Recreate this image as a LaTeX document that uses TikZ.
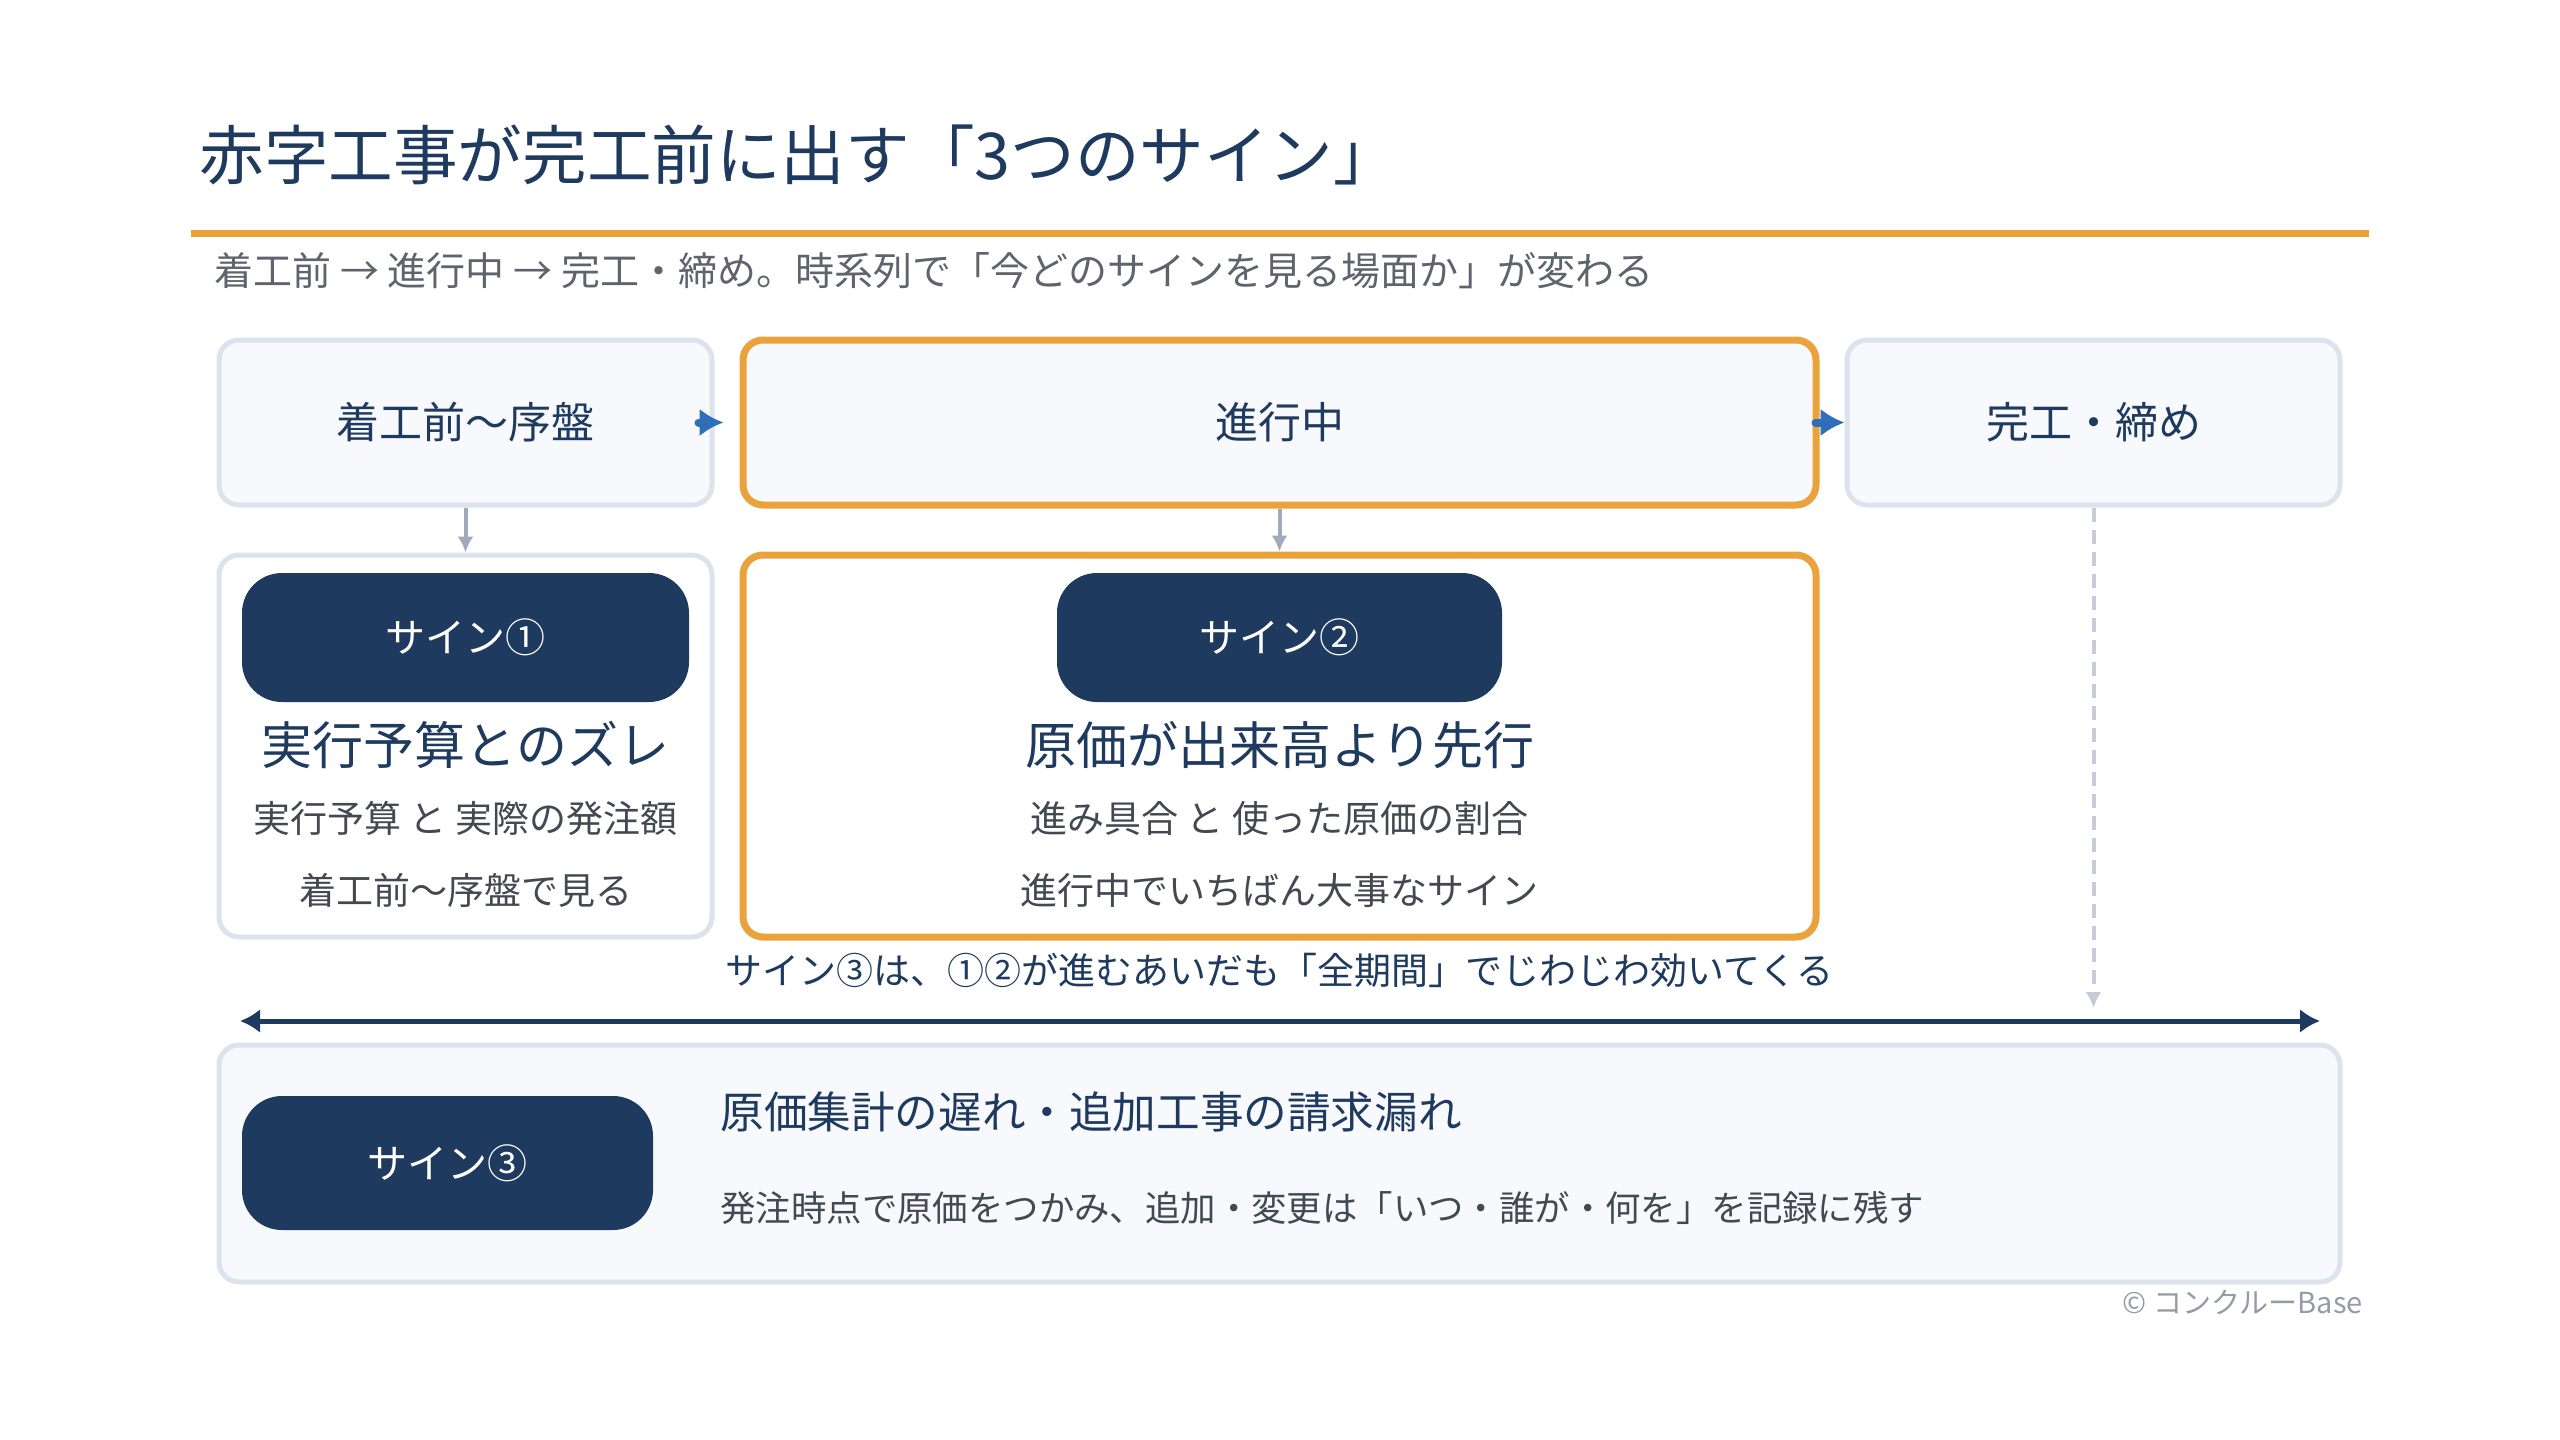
\documentclass[tikz,border=0pt]{standalone}
\usepackage{fontspec}
\setmainfont{Noto Sans CJK JP}
\usepackage{tikz}
\usetikzlibrary{arrows.meta}
\definecolor{navy}{RGB}{31,58,95}
\definecolor{orng}{RGB}{234,162,59}
\definecolor{paleg}{RGB}{247,249,252}
\definecolor{lineg}{RGB}{220,227,236}
\definecolor{flowblue}{RGB}{47,111,186}
\definecolor{dropgray}{RGB}{160,170,187}
\definecolor{dashgray}{RGB}{197,204,214}
\definecolor{txtgray}{RGB}{68,72,80}
\definecolor{subgray}{RGB}{95,100,108}
\definecolor{credgray}{RGB}{150,156,165}
\tikzset{>=latex}

\begin{document}
\begin{tikzpicture}[x=0.5pt, y=-0.5pt,
  phase/.style={draw=lineg, line width=2.5pt, fill=paleg, rounded corners=10pt, minimum height=82.5pt, text=navy, font=\fontsize{21.5pt}{24pt}\selectfont},
  card/.style={draw=lineg, line width=2.5pt, fill=white, rounded corners=10pt, minimum height=191pt},
  pill/.style={fill=navy, rounded corners=20pt, minimum height=64.5pt, text=white, font=\fontsize{20pt}{24pt}\selectfont},
  head/.style={inner sep=0, text=navy, font=\fontsize{25.5pt}{30pt}\selectfont},
  desc/.style={inner sep=0, text=txtgray, font=\fontsize{18.5pt}{22pt}\selectfont},
  flow/.style={flowblue, line width=4pt, line cap=round, -{Latex[length=12pt, width=14pt]}},
  drop/.style={dropgray, line width=2pt, -{Latex[length=8pt, width=8pt]}},
  tail/.style={dashgray, line width=2pt, dash pattern=on 7pt off 4pt, -{Latex[length=8pt, width=8pt]}},
  span/.style={navy, line width=2.5pt, {Latex[length=10pt, width=12pt]}-{Latex[length=10pt, width=12pt]}}]
\useasboundingbox (0,0) rectangle (2560,1440);

% title and rule
\node[anchor=west, inner sep=0, text=navy, font=\fontsize{32.3pt}{36pt}\selectfont] (title) at (199,155) {赤字工事が完工前に出す「3つのサイン」};
\draw[orng, line width=3.5pt] (191,233) -- (2369,233);
\node[anchor=west, inner sep=0, text=subgray, font=\fontsize{19.5pt}{24pt}\selectfont] (sub) at (214,271) {着工前 → 進行中 → 完工・締め。時系列で「今どのサインを見る場面か」が変わる};

% phases
\node[phase, minimum width=246.5pt] (pre) at (465.5,422.5) {着工前～序盤};
\node[phase, draw=orng, line width=3.5pt, minimum width=536.5pt] (now) at (1279.5,422.5) {進行中};
\node[phase, minimum width=246.5pt] (post) at (2093.5,422.5) {完工・締め};
\draw[flow] ([xshift=-8pt]pre.east) -- ([xshift=-8pt]now.west);
\draw[flow] ([xshift=-2pt]now.east) -- (post.west);

% signs 1 and 2
\node[card, minimum width=246.5pt] (cardA) at (465.5,746) {};
\node[card, draw=orng, line width=3.5pt, minimum width=536.5pt] (cardB) at (1279.5,746) {};
\draw[drop] (pre) -- (cardA);
\draw[drop] (now) -- (cardB);
\node[pill, minimum width=223.5pt] (pillA) at (465.5,637.5) {サイン①};
\node[head] (headA) at (465.5,745) {実行予算とのズレ};
\node[desc] (descA1) at (465.5,818) {実行予算 と 実際の発注額};
\node[desc] (descA2) at (465.5,890) {着工前～序盤で見る};
\node[pill, minimum width=222.5pt] (pillB) at (1279.5,637.5) {サイン②};
\node[head] (headB) at (1279.5,745) {原価が出来高より先行};
\node[desc] (descB1) at (1279.5,818) {進み具合 と 使った原価の割合};
\node[desc] (descB2) at (1279.5,890) {進行中でいちばん大事なサイン};

% sign 3 over the whole span
\node[desc, text=navy] (note) at (1279.5,970) {サイン③は、①②が進むあいだも「全期間」でじわじわ効いてくる};
\coordinate (endC) at (2093.5,1008);
\draw[tail] (post) -- (endC);
\coordinate (spanL) at (240,1021);
\coordinate (spanR) at (2320,1021);
\draw[span] (spanL) -- (spanR);
\node[phase, minimum width=1060.5pt, minimum height=118.5pt] (band) at (1279.5,1163.5) {};
\node[pill, minimum width=205.5pt, minimum height=67pt] (pillC) at (447.5,1163) {サイン③};
\node[head, anchor=west, font=\fontsize{21.8pt}{26pt}\selectfont] (headC) at (720,1112) {原価集計の遅れ・追加工事の請求漏れ};
\node[desc, anchor=west, font=\fontsize{17.7pt}{21pt}\selectfont] (descC) at (720,1208) {発注時点で原価をつかみ、追加・変更は「いつ・誰が・何を」を記録に残す};
\node[anchor=east, inner sep=0, text=credgray, font=\fontsize{14.5pt}{17pt}\selectfont] (cred) at (2363,1302) {© コンクルーBase};
\end{tikzpicture}
\end{document}
